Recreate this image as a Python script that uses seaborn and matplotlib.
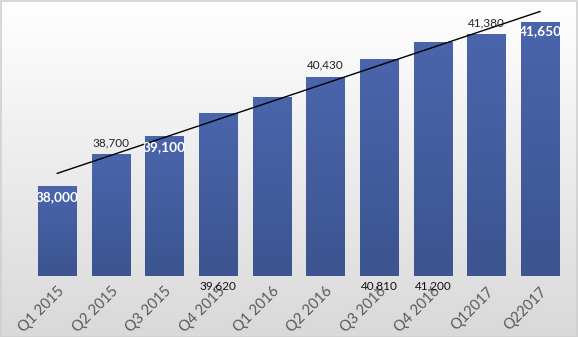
import numpy as np
import pandas as pd
import matplotlib
matplotlib.use("Agg")
import matplotlib.pyplot as plt
import seaborn as sns
from matplotlib.colors import LinearSegmentedColormap
from matplotlib.patches import Rectangle

categories = ["Q1 2015", "Q2 2015", "Q3 2015", "Q4 2015", "Q1 2016",
              "Q2 2016", "Q3 2016", "Q4 2016", "Q12017", "Q22017"]
values = [38000, 38700, 39100, 39620, 39980, 40430, 40810, 41200, 41380, 41650]
label_texts = ["38,000", "38,700", "39,100", "39,620", "",
               "40,430", "40,810", "41,200", "41,380", "41,650"]

sns.set_theme(style="white")
plt.rcParams["font.family"] = ["Lato", "DejaVu Sans"]

W, H = 578, 337
fig = plt.figure(figsize=(W / 100, H / 100), dpi=100)

# background gradient
bg = fig.add_axes([0, 0, 1, 1], zorder=-10)
grad = np.linspace(0, 1, 256).reshape(-1, 1)
bg_cmap = LinearSegmentedColormap.from_list("bg", ["#ffffff", "#d9d9d9"])
bg.imshow(grad, aspect="auto", cmap=bg_cmap, extent=[0, 1, 0, 1], origin="upper")
bg.set_axis_off()
fig.patches.append(Rectangle((0.5 / W, 0.5 / H), 1 - 1.5 / W, 1 - 1.5 / H,
                             transform=fig.transFigure, fill=False,
                             edgecolor="#d0d0d0", linewidth=1.2, zorder=20))

ax = fig.add_axes([30.2 / W, 1 - 276 / H, (567 - 30.2) / W, (276 - 6.5) / H])
ax.patch.set_alpha(0)

df = pd.DataFrame({"quarter": categories, "value": values})
sns.barplot(data=df, x="quarter", y="value", color="#4560a6", width=0.71,
            saturation=1, ax=ax)

ymin, ymax = 36000, 42000
bar_cmap = LinearSegmentedColormap.from_list("bar", ["#4a65ac", "#3c548f"])
for p in ax.patches:
    x0 = p.get_x()
    w = p.get_width()
    h = p.get_height()
    ax.imshow(grad, aspect="auto", cmap=bar_cmap, origin="upper",
              extent=[x0, x0 + w, ymin, h], zorder=2)
    p.set_visible(False)

# trendline
xs = np.arange(len(values))
k, b = np.polyfit(xs, values, 1)
ax.plot([xs[0], xs[-1]], [k * xs[0] + b, k * xs[-1] + b], color="black",
        lw=1.0, zorder=4)

ax.set_xlim(-0.5, len(values) - 0.5)
ax.set_ylim(ymin, ymax)

# data labels (offsets in pixels -> points)
px = 0.72
# mode: 'in' = white inside top, 'above' = black above, 'below' = black under axis
modes = ["in", "above", "in", "below", None, "above", "below", "below", "above", "in"]
offs = [-11, 12, -10.5, -10, 0, 12, -10, -10, 11, -9]
for i, (m, t, v, o) in enumerate(zip(modes, label_texts, values, offs)):
    if m is None or not t:
        continue
    if m == "below":
        ax.annotate(t, xy=(i, 0), xycoords=("data", "axes fraction"),
                    xytext=(0, o * px), textcoords="offset points",
                    ha="center", va="center", fontsize=8.5, color="#111111",
                    annotation_clip=False, zorder=5)
    elif m == "above":
        ax.annotate(t, xy=(i, v), xytext=(0, o * px), textcoords="offset points",
                    ha="center", va="center", fontsize=8.5, color="#222222",
                    zorder=5)
    else:
        ax.annotate(t, xy=(i, v), xytext=(0, o * px), textcoords="offset points",
                    ha="center", va="center", fontsize=9.8, color="white",
                    fontweight="bold", zorder=5)

ax.set_xlabel("")
ax.set_ylabel("")
ax.set_yticks([])
ax.set_xticks(xs)
ax.set_xticklabels(categories, rotation=45, ha="right", rotation_mode="anchor",
                   fontsize=10.5, color="#595959")
ax.tick_params(axis="x", length=0, pad=6)
for s in ax.spines.values():
    s.set_visible(False)

fig.savefig("out.png", dpi=100)
